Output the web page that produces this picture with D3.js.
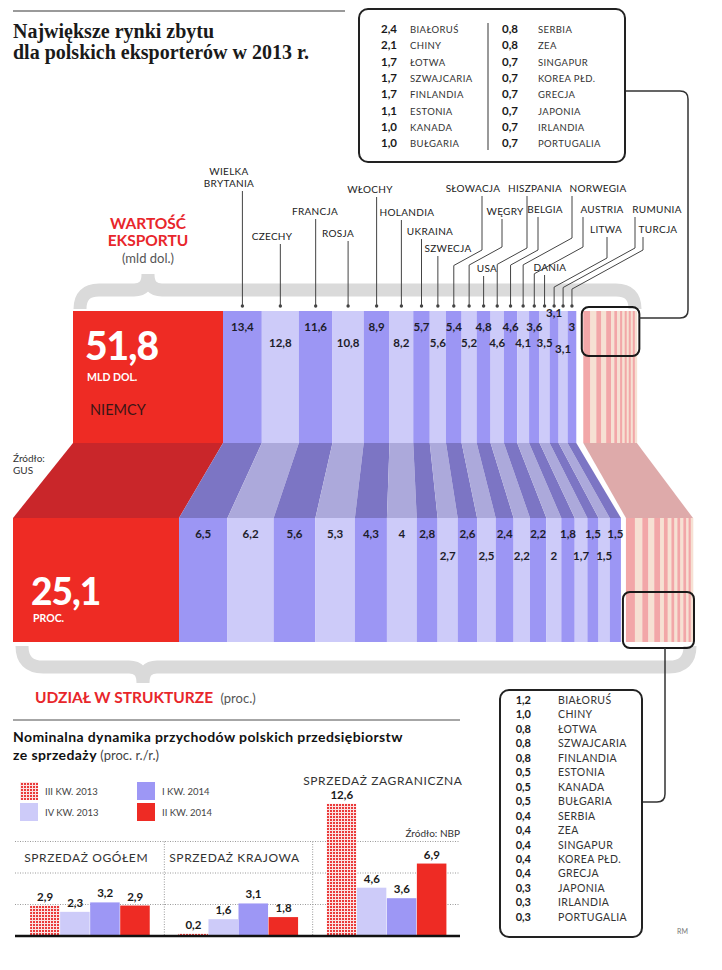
<!DOCTYPE html>
<html>
<head>
<meta charset="utf-8">
<script src="https://cdn.jsdelivr.net/npm/d3@7"></script>
<style>
  body { margin: 0; background: #fff; }
  svg text { font-family: Lato, "Open Sans", sans-serif; }
</style>
</head>
<body>
<svg id="drawing_region"></svg>
<script>
// --- dane ---
const niemcyExport = 51.8;
const niemcyShare = 25.1;

const mainCountries = ['WIELKA BRYTANIA','CZECHY','FRANCJA','ROSJA','WŁOCHY','HOLANDIA','UKRAINA','SZWECJA',
  'SŁOWACJA','WĘGRY','USA','HISZPANIA','BELGIA','NORWEGIA','AUSTRIA','DANIA','LITWA','RUMUNIA','TURCJA'];
const mainExport = [13.4,12.8,11.6,10.8,8.9,8.2,5.7,5.6,5.4,5.2,4.8,4.6,4.6,4.1,3.6,3.5,3.1,3.1,3.0];
const mainShare  = [6.5,6.2,5.6,5.3,4.3,4,2.8,2.7,2.6,2.5,2.4,2.2,2.2,2,1.8,1.7,1.5,1.5,1.5];

const smallCountries = ['BIAŁORUŚ','CHINY','ŁOTWA','SZWAJCARIA','FINLANDIA','ESTONIA','KANADA','BUŁGARIA',
  'SERBIA','ZEA','SINGAPUR','KOREA PŁD.','GRECJA','JAPONIA','IRLANDIA','PORTUGALIA'];
const smallExport = [2.4,2.1,1.7,1.7,1.7,1.1,1.0,1.0,0.8,0.8,0.7,0.7,0.7,0.7,0.7,0.7];
const smallShare  = [1.2,1.0,0.8,0.8,0.8,0.5,0.5,0.5,0.4,0.4,0.4,0.4,0.4,0.3,0.3,0.3];

const quarters = ['III KW. 2013','IV KW. 2013','I KW. 2014','II KW. 2014'];
const salesGroups = ['SPRZEDAŻ OGÓŁEM','SPRZEDAŻ KRAJOWA','SPRZEDAŻ ZAGRANICZNA'];
const salesOgolem = [2.9,2.3,3.2,2.9];
const salesKrajowa = [0.2,1.6,3.1,1.8];
const salesZagraniczna = [12.6,4.6,3.6,6.9];
const gridTicks = [3,6,9];

// --- uklad (podpisy) ---
// [x tekstu, y bazowe ostatniej linii, x linii (null = pionowa), y zalamania]
const labelLayout = [
  [229,187,null,0],[272,240,null,0],[315,215,null,0],[338,237,null,0],[370,193,null,0],
  [407,216,null,0],[430,235,null,0],[448,252,null,0],[473,192,482,250],[505,215,502,247],
  [487,272,null,0],[535,192,527,248],[545,213,538,250],[598,192,572,238],[602,213,583,247],
  [550,271,null,0],[606,233,607,258],[657,213,635,248],[658,233,643,250]
];
const topRowY = [331,347,317,353];
const topRow = [0,1,0,1,0,1,0,1,0,1,0,1,0,1,0,1,2,3,0];
const botRowY = [538,560];
const botRow = [0,0,0,0,0,0,0,1,0,1,0,1,0,1,0,1,0,1,0];

const fmt = v => String(v).replace('.', ',');
const fmt1 = v => v.toFixed(1).replace('.', ',');

const svg = d3.select('#drawing_region').attr('width', 722).attr('height', 970);
const defs = svg.append('defs');
const pat = defs.append('pattern').attr('id','dots').attr('width',3).attr('height',3)
  .attr('patternUnits','userSpaceOnUse');
pat.append('rect').attr('width',3).attr('height',3).attr('fill','#fbe3e3');
pat.append('rect').attr('width',2).attr('height',2).attr('fill','#ea3a3a');

// tytul
svg.append('line').attr('x1',13).attr('x2',345).attr('y1',11).attr('y2',11)
  .attr('stroke','#9a9a9a').attr('stroke-width',2);
svg.append('text').attr('x',13).attr('y',38).text('Największe rynki zbytu')
  .style('font-family','"Liberation Serif", serif').style('font-weight','bold').style('font-size','20px').attr('fill','#1a1a1a');
svg.append('text').attr('x',13).attr('y',59).text('dla polskich eksporterów w 2013 r.')
  .style('font-family','"Liberation Serif", serif').style('font-weight','bold').style('font-size','20px').attr('fill','#1a1a1a');

// --- skale ---
const topY0 = 311, topY1 = 443, botY0 = 518, botY1 = 642;
const sumMainExp = d3.sum(mainExport);
const sumMainShare = d3.sum(mainShare);
const topX = d3.scaleLinear().domain([-niemcyExport, 0]).range([73, 223]);
const botX = d3.scaleLinear().domain([-niemcyShare, 0, sumMainShare + d3.sum(smallShare)]).range([13, 179, 688]);
const topGap = 7, botGap = 5;

const expStart = [0, ...d3.cumsum(mainExport)];
const shStart = [0, ...d3.cumsum(mainShare)];
const smExpStart = [0, ...d3.cumsum(smallExport)];
const smShStart = [0, ...d3.cumsum(smallShare)];

const mainData = mainCountries.map((c, i) => ({
  name: c, i,
  tx0: topX(expStart[i]), tx1: topX(expStart[i+1]),
  bx0: botX(shStart[i]), bx1: botX(shStart[i+1]),
  exp: mainExport[i], share: mainShare[i]
}));
const smallData = smallCountries.map((c, i) => ({
  name: c, i,
  tx0: topX(sumMainExp + smExpStart[i]) + topGap, tx1: topX(sumMainExp + smExpStart[i+1]) + topGap,
  bx0: botX(sumMainShare + smShStart[i]) + botGap, bx1: botX(sumMainShare + smShStart[i+1]) + botGap
}));
const pinkTop = [smallData[0].tx0, smallData[smallData.length-1].tx1];
const pinkBot = [smallData[0].bx0, smallData[smallData.length-1].bx1];

const blueBar = ['#9c96f4', '#cdcbf9'];
const blueJoin = ['#7c75c4', '#aca9db'];
const pinkBar = ['#f2a7a8', '#f6e1d3'];

// klamry
const braces = svg.append('g').attr('fill','none').attr('stroke','#dadada').attr('stroke-width',13);
braces.append('path').attr('d','M80,309 Q80,290 99,290 L134,290 Q148,290 148,274 Q148,290 162,290 L616,290 Q635,290 635,309');
braces.append('path').attr('d','M22,646 Q22,667 43,667 L129,667 Q143,667 143,683 Q143,667 157,667 L669,667 Q690,667 690,646');

// przejscia
const poly = pts => d3.line()(pts) + 'Z';
svg.append('path').attr('d', poly([[topX(-niemcyExport),topY1],[topX(0),topY1],[botX(0),botY0],[botX(-niemcyShare),botY0]]))
  .attr('fill','#c9262a');
svg.append('g').selectAll('path').data(mainData).join('path')
  .attr('d', d => poly([[d.tx0,topY1],[d.tx1,topY1],[d.bx1,botY0],[d.bx0,botY0]]))
  .attr('fill', d => blueJoin[d.i % 2]);
svg.append('path').attr('d', poly([[pinkTop[0],topY1],[pinkTop[1],topY1],[pinkBot[1],botY0],[pinkBot[0],botY0]]))
  .attr('fill','#deaaaa');

// slupki gorne
svg.append('rect').attr('x',topX(-niemcyExport)).attr('y',topY0).attr('width',topX(0)-topX(-niemcyExport))
  .attr('height',topY1-topY0).attr('fill','#ee2b24');
svg.append('g').selectAll('rect').data(mainData).join('rect')
  .attr('x', d => d.tx0).attr('y', topY0).attr('width', d => d.tx1 - d.tx0).attr('height', topY1 - topY0)
  .attr('fill', d => blueBar[d.i % 2]);
svg.append('g').selectAll('rect').data(smallData).join('rect')
  .attr('x', d => d.tx0).attr('y', topY0).attr('width', d => d.tx1 - d.tx0 + 0.3).attr('height', topY1 - topY0)
  .attr('fill', d => pinkBar[d.i % 2]);

// slupki dolne
svg.append('rect').attr('x',botX(-niemcyShare)).attr('y',botY0).attr('width',botX(0)-botX(-niemcyShare))
  .attr('height',botY1-botY0).attr('fill','#ee2b24');
svg.append('g').selectAll('rect').data(mainData).join('rect')
  .attr('x', d => d.bx0).attr('y', botY0).attr('width', d => d.bx1 - d.bx0).attr('height', botY1 - botY0)
  .attr('fill', d => blueBar[d.i % 2]);
svg.append('g').selectAll('rect').data(smallData).join('rect')
  .attr('x', d => d.bx0).attr('y', botY0).attr('width', d => d.bx1 - d.bx0 + 0.3).attr('height', botY1 - botY0)
  .attr('fill', d => pinkBar[d.i % 2]);

// wartosci na slupkach
svg.append('g').selectAll('text').data(mainData).join('text')
  .attr('x', d => (d.tx0 + d.tx1) / 2).attr('y', d => topRowY[topRow[d.i]])
  .attr('text-anchor','middle').style('font-size','11.5px').style('font-weight','bold').attr('fill','#1d1d2b')
  .text(d => fmt(d.exp));
svg.append('g').selectAll('text').data(mainData).join('text')
  .attr('x', d => (d.bx0 + d.bx1) / 2).attr('y', d => botRowY[botRow[d.i]])
  .attr('text-anchor','middle').style('font-size','11.5px').style('font-weight','bold').attr('fill','#1d1d2b')
  .text(d => fmt(d.share));

// Niemcy
const nx = topX(-niemcyExport);
svg.append('text').attr('x', nx + 12).attr('y', 360).text(fmt(niemcyExport))
  .style('font-size','39px').style('font-weight','900').style('letter-spacing','-1px').attr('fill','#fff');
svg.append('text').attr('x', nx + 14).attr('y', 381).text('MLD DOL.')
  .style('font-size','10.5px').style('font-weight','bold').attr('fill','#fff');
svg.append('text').attr('x', nx + 17).attr('y', 415).text('NIEMCY')
  .style('font-size','14.5px').attr('fill','#3a1616');
const bx = botX(-niemcyShare);
svg.append('text').attr('x', bx + 18).attr('y', 605).text(fmt(niemcyShare))
  .style('font-size','37px').style('font-weight','900').style('letter-spacing','-1px').attr('fill','#fff');
svg.append('text').attr('x', bx + 20).attr('y', 622).text('PROC.')
  .style('font-size','10.5px').style('font-weight','bold').attr('fill','#fff');
svg.append('text').attr('x', 13).attr('y', 462).text('Źródło:').style('font-size','10px').attr('fill','#333');
svg.append('text').attr('x', 13).attr('y', 474).text('GUS').style('font-size','10px').attr('fill','#333');

// naglowki sekcji
svg.append('text').attr('x',148).attr('y',229).attr('text-anchor','middle').text('WARTOŚĆ')
  .style('font-size','15.5px').style('font-weight','bold').attr('fill','#e8262b');
svg.append('text').attr('x',148).attr('y',246).attr('text-anchor','middle').text('EKSPORTU')
  .style('font-size','15.5px').style('font-weight','bold').attr('fill','#e8262b');
svg.append('text').attr('x',148).attr('y',263).attr('text-anchor','middle').text('(mld dol.)')
  .style('font-size','13px').attr('fill','#555');
const ud = svg.append('text').attr('x',35).attr('y',703);
ud.append('tspan').text('UDZIAŁ W STRUKTURZE').style('font-size','15.5px').style('font-weight','bold').attr('fill','#e8262b');
ud.append('tspan').text(' (proc.)').style('font-size','13px').attr('fill','#555').attr('dx',4);

// podpisy krajow z liniami
const leaderG = svg.append('g');
mainData.forEach(d => {
  const [tx, ty, lx, bend] = labelLayout[d.i];
  const cx = (d.tx0 + d.tx1) / 2;
  const lines = d.name.length > 10 ? d.name.split(' ') : [d.name];
  lines.forEach((ln, k) => {
    leaderG.append('text').attr('x', tx).attr('y', ty - (lines.length - 1 - k) * 12)
      .attr('text-anchor','middle').style('font-size','10px').style('letter-spacing','0.3px')
      .attr('fill','#222').text(ln);
  });
  const y0 = ty + 4, yEnd = 306;
  let p;
  if (lx == null) p = `M${cx},${y0}V${yEnd}`;
  else p = `M${lx},${y0}V${bend}L${cx},${bend + 0.55 * Math.abs(lx - cx)}V${yEnd}`;
  leaderG.append('path').attr('d', p).attr('fill','none').attr('stroke','#444').attr('stroke-width',1);
  leaderG.append('circle').attr('cx', cx).attr('cy', yEnd).attr('r', 1.7).attr('fill','#444');
});

// ramki wyroznien + lacznik
svg.append('rect').attr('x', pinkTop[0] - 1.5).attr('y', 307).attr('width', pinkTop[1] - pinkTop[0] + 4)
  .attr('height', 49).attr('rx', 7).attr('fill','none').attr('stroke','#1a1a1a').attr('stroke-width',2);
svg.append('rect').attr('x', pinkBot[0] - 3).attr('y', 592).attr('width', pinkBot[1] - pinkBot[0] + 4)
  .attr('height', 56).attr('rx', 7).attr('fill','none').attr('stroke','#1a1a1a').attr('stroke-width',2);
const rTop = pinkTop[1] + 2.5;
svg.append('path').attr('d', `M625,91 H680 Q688,91 688,99 V310 Q688,318 680,318 H${rTop}`)
  .attr('fill','none').attr('stroke','#333').attr('stroke-width',1.5);
svg.append('path').attr('d', `M665,648 V794 Q665,802 657,802 H642`)
  .attr('fill','none').attr('stroke','#333').attr('stroke-width',1.5);

// ramka gorna (eksport, mld dol.)
svg.append('rect').attr('x',359).attr('y',9).attr('width',266).attr('height',153).attr('rx',9)
  .attr('fill','#fff').attr('stroke','#222').attr('stroke-width',2);
svg.append('line').attr('x1',488).attr('x2',488).attr('y1',23).attr('y2',150).attr('stroke','#555').attr('stroke-width',1.2);
const boxTop = svg.append('g');
smallData.forEach(d => {
  const col = d.i < 8 ? 0 : 1;
  const row = d.i % 8;
  const y = 33 + row * 16.3;
  boxTop.append('text').attr('x', col ? 518 : 397).attr('y', y).attr('text-anchor','end')
    .style('font-size','11.5px').style('font-weight','bold').attr('fill','#1a1a1a').text(fmt1(smallExport[d.i]));
  boxTop.append('text').attr('x', col ? 538 : 410).attr('y', y)
    .style('font-size','9.5px').style('letter-spacing','0.4px').attr('fill','#333').text(d.name);
});

// ramka dolna (udzial, proc.)
svg.append('rect').attr('x',500).attr('y',690).attr('width',142).attr('height',247).attr('rx',9)
  .attr('fill','#fff').attr('stroke','#222').attr('stroke-width',2);
const boxBot = svg.append('g');
smallData.forEach(d => {
  const y = 704 + d.i * 14.45;
  boxBot.append('text').attr('x', 531).attr('y', y).attr('text-anchor','end')
    .style('font-size','11px').style('font-weight','bold').attr('fill','#1a1a1a').text(fmt1(smallShare[d.i]));
  boxBot.append('text').attr('x', 558).attr('y', y)
    .style('font-size','10.5px').style('letter-spacing','0.4px').attr('fill','#333').text(d.name);
});
svg.append('text').attr('x',677).attr('y',934).text('RM').style('font-size','7px').attr('fill','#777');

// --- wykres dynamiki sprzedazy ---
svg.append('line').attr('x1',13).attr('x2',460).attr('y1',720).attr('y2',720).attr('stroke','#888').attr('stroke-width',1.5);
svg.append('text').attr('x',13).attr('y',742).text('Nominalna dynamika przychodów polskich przedsiębiorstw')
  .style('font-size','14px').style('font-weight','bold').style('letter-spacing','0.4px').attr('fill','#111');
const t2 = svg.append('text').attr('x',13).attr('y',760);
t2.append('tspan').text('ze sprzedaży').style('font-size','14px').style('font-weight','bold').style('letter-spacing','0.4px').attr('fill','#111');
t2.append('tspan').text(' (proc. r./r.)').style('font-size','13px').attr('fill','#444');

const qFill = ['url(#dots)', '#cdcbf9', '#9d97f5', '#ee2b24'];
const legendPos = [[20,782],[20,803],[137,782],[137,803]];
quarters.forEach((q, i) => {
  svg.append('rect').attr('x', legendPos[i][0]).attr('y', legendPos[i][1]).attr('width',18).attr('height',18).attr('fill', qFill[i]);
  svg.append('text').attr('x', legendPos[i][0] + 25).attr('y', legendPos[i][1] + 13).text(q)
    .style('font-size','9.5px').attr('fill','#444');
});

const salesValues = [salesOgolem, salesKrajowa, salesZagraniczna];
const gx = d3.scaleBand().domain(salesGroups).range([16, 461]).paddingInner(0.19).paddingOuter(0.095);
const qx = d3.scaleBand().domain(quarters).range([0, gx.bandwidth()]);
const sy = d3.scaleLinear().domain([0, 9]).range([936, 841.5]);

const grid = svg.append('g').attr('stroke','#9a9a9a').attr('stroke-width',1).attr('stroke-dasharray','1,1.5');
gridTicks.forEach(t => grid.append('line').attr('x1',15).attr('x2',460).attr('y1',sy(t)).attr('y2',sy(t)));
const gap = (gx.step() - gx.bandwidth()) / 2;
salesGroups.slice(1).forEach(g => grid.append('line').attr('x1', gx(g) - gap).attr('x2', gx(g) - gap)
  .attr('y1', sy(9)).attr('y2', sy(0)));

const barData = [];
salesGroups.forEach((g, gi) => quarters.forEach((q, qi) => barData.push({ g, q, qi, v: salesValues[gi][qi] })));
svg.append('g').selectAll('rect').data(barData).join('rect')
  .attr('x', d => gx(d.g) + qx(d.q)).attr('width', qx.bandwidth() - 0.5)
  .attr('y', d => sy(d.v)).attr('height', d => sy(0) - sy(d.v))
  .attr('fill', d => qFill[d.qi]);
svg.append('g').selectAll('text').data(barData).join('text')
  .attr('x', d => gx(d.g) + qx(d.q) + qx.bandwidth() / 2).attr('y', d => sy(d.v) - 5)
  .attr('text-anchor','middle').style('font-size','11.5px').style('font-weight','bold').attr('fill','#1a1a1a')
  .text(d => fmt(d.v));
svg.append('line').attr('x1',15).attr('x2',460).attr('y1',sy(0)).attr('y2',sy(0)).attr('stroke','#111').attr('stroke-width',2.5);

const groupLabelY = [862, 862, 785];
salesGroups.forEach((g, i) => svg.append('text').attr('x', gx(g) + gx.bandwidth() / 2 - 4).attr('y', groupLabelY[i])
  .attr('text-anchor','middle').style('font-size','12px').style('letter-spacing','0.6px').attr('fill','#333').text(g));
svg.append('text').attr('x',460).attr('y',837).attr('text-anchor','end').text('Źródło: NBP')
  .style('font-size','10px').attr('fill','#333');
</script>
</body>
</html>
